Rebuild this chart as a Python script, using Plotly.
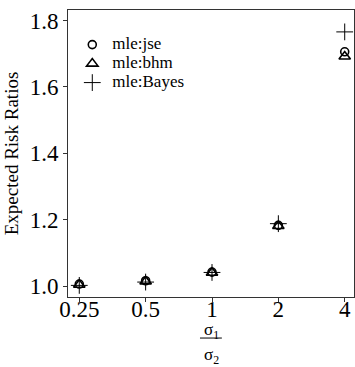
import plotly.graph_objects as go

ratios = ["0.25", "0.5", "1", "2", "4"]
jse = [1.006, 1.016, 1.042, 1.183, 1.706]
bhm = [1.004, 1.014, 1.040, 1.181, 1.692]
bayes = [1.002, 1.012, 1.041, 1.188, 1.766]
names = ["mle:jse", "mle:bhm", "mle:Bayes"]

font = "Liberation Serif"
fig = go.Figure()
def lbl(s):
    return "<span style='font-family:\"Liberation Serif\";font-size:17px'>" + s + "</span>"
fig.add_trace(go.Scatter(x=ratios, y=jse, mode="markers", name=lbl(names[0]),
                         marker=dict(symbol="circle-open", size=8, color="black", line=dict(width=1.6))))
fig.add_trace(go.Scatter(x=ratios, y=bhm, mode="markers", name=lbl(names[1]),
                         marker=dict(symbol="triangle-up-open", size=10, color="black", line=dict(width=1.6))))
fig.add_trace(go.Scatter(x=ratios, y=bayes, mode="markers", name=lbl(names[2]),
                         marker=dict(symbol="cross-thin-open", size=12, color="black", line=dict(width=1))))

fig.update_layout(
    width=355, height=367,
    margin=dict(l=68, r=1, t=10, b=70),
    paper_bgcolor="white", plot_bgcolor="white",
    font=dict(family=font, color="black"),
    showlegend=True,
    legend=dict(x=0.015, y=0.93, xanchor="left", yanchor="top",
                font=dict(size=12, family=font), bgcolor="rgba(0,0,0,0)",
                tracegroupgap=0, itemwidth=30),
    xaxis=dict(type="category", range=[-0.17, 4.14], showgrid=False, zeroline=False,
               showline=True, linecolor="#333", linewidth=1, mirror=True,
               ticks="outside", ticklen=4, tickcolor="#333", ticklabelstandoff=-13,
               tickfont=dict(size=23, family=font)),
    yaxis=dict(range=[0.967, 1.832], showgrid=False, zeroline=False,
               showline=True, linecolor="#333", linewidth=1, mirror=True,
               ticks="outside", ticklen=4, tickcolor="#333",
               tickvals=[1.0, 1.2, 1.4, 1.6, 1.8], ticktext=["1.0", "1.2", "1.4", "1.6", "1.8"],
               tickfont=dict(size=23, family=font),
               title=dict(text="Expected Risk Ratios", font=dict(size=19, family=font), standoff=6)),
)
fig.add_annotation(text="σ<sub>1</sub>", xref="paper", yref="paper", x=0.5, y=-0.118,
                   xanchor="center", yanchor="middle", showarrow=False, font=dict(size=17, family=font))
fig.add_annotation(text="σ<sub>2</sub>", xref="paper", yref="paper", x=0.5, y=-0.205,
                   xanchor="center", yanchor="middle", showarrow=False, font=dict(size=17, family=font))
fig.add_shape(type="line", xref="paper", yref="paper", x0=0.4615, x1=0.538, y0=-0.143, y1=-0.143,
              line=dict(color="black", width=1))
fig.write_html("out.html")
